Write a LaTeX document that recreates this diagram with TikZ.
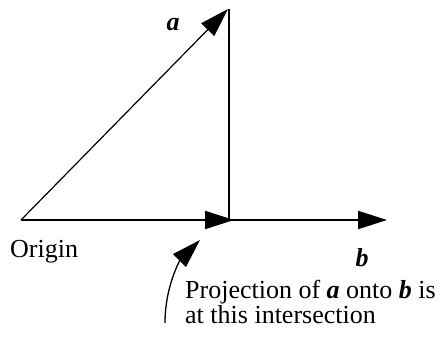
\documentclass[tikz,border=0pt]{standalone}
\usepackage{fontspec}
\setmainfont{Liberation Serif}
\usetikzlibrary{arrows.meta}
\begin{document}
\begin{tikzpicture}[x=1pt,y=-1pt,
  tip/.style={-{Triangle[length=29pt,width=18pt]}},
  lbl/.style={inner sep=0pt,font=\fontsize{26}{25}\selectfont},
  vec/.style={line width=1.2pt,tip},
  thick vec/.style={line width=2pt,tip}]
\useasboundingbox (0,0) rectangle (442,356);
\coordinate (O) at (21,220);
\coordinate (A) at (228,9);
\coordinate (P) at (229,220);
\coordinate (Pt) at (234,220);
\coordinate (B) at (387,220);
\coordinate (C0) at (165,323);
\coordinate (C1) at (200,240);
\draw[vec] (O) -- (A);
\draw[line width=1.5pt] (229,9) -- (P);
\draw[thick vec] (O) -- (Pt);
\draw[thick vec] (P) -- (B);
\draw[line width=1.3pt,tip] (C0) .. controls (165,285) and (181,259) .. (C1);
\node[lbl] (la) at (173,25) {\textbf{\textit{a}}};
\node[lbl] (lb) at (362,258) {\textbf{\textit{b}}};
\node[lbl,anchor=base west] (lo) at (10,257) {Origin};
\node[lbl,anchor=base west,align=left] (lp) at (185,323) {Projection of \textbf{\textit{a}} onto \textbf{\textit{b}} is\\at this intersection};
\end{tikzpicture}
\end{document}
